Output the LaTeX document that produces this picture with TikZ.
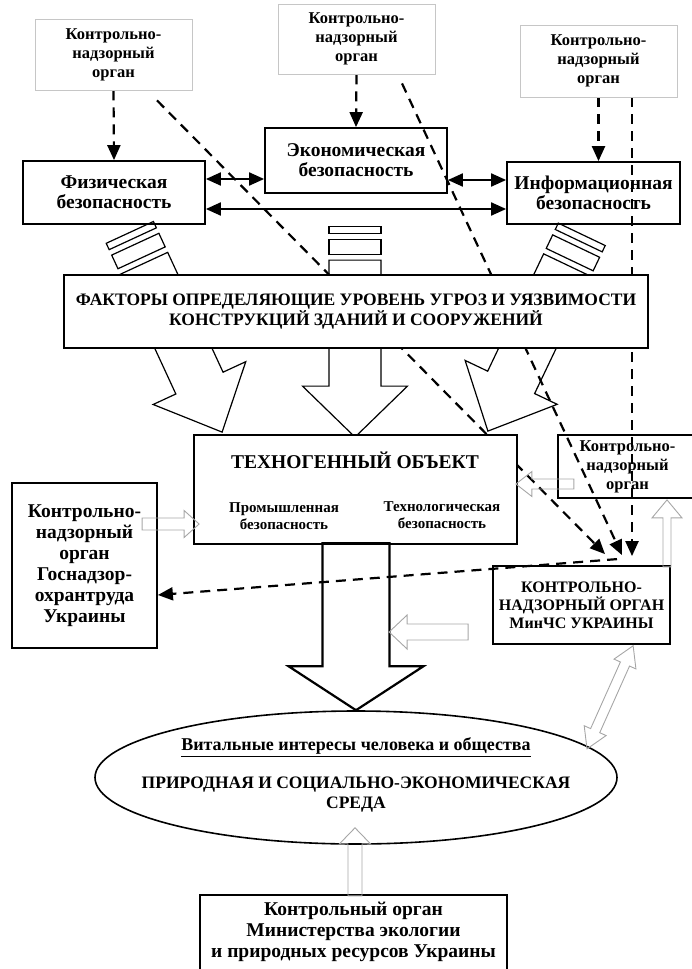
\documentclass[tikz,border=0pt]{standalone}
\usepackage{fontspec}
\setmainfont{Liberation Serif}
\usetikzlibrary{arrows.meta, calc, shapes.geometric}

\pgfdeclarelayer{back}
\pgfsetlayers{back,main}

\newcommand{\ctrlfont}{\fontsize{16.5}{19}\selectfont\bfseries}
\newcommand{\secfont}{\fontsize{19.5}{20}\selectfont\bfseries}
\newcommand{\capsfont}{\fontsize{17.5}{20}\selectfont\bfseries}
\newcommand{\titlefont}{\fontsize{19.5}{22}\selectfont\bfseries}
\newcommand{\subfont}{\fontsize{15}{17}\selectfont\bfseries}
\newcommand{\orgfont}{\fontsize{19.5}{21}\selectfont\bfseries}
\newcommand{\minfont}{\fontsize{16}{18}\selectfont\bfseries}
\newcommand{\envfont}{\fontsize{18}{20}\selectfont\bfseries}

\tikzset{
  pics/hollowarrow/.style args={#1/#2/#3/#4}{code={
    \draw[hollowline] (0,0) -- (-#4,#3) -- (-#4,#2) -- (-#1,#2) -- (-#1,-#2) -- (-#4,-#2) -- (-#4,-#3) -- cycle;}},
  pics/twinarrow/.style args={#1/#2/#3/#4}{code={
    \draw[hollowline] (0,0) -- (#4,#3) -- (#4,#2) -- (#1-#4,#2) -- (#1-#4,#3) -- (#1,0)
      -- (#1-#4,-#3) -- (#1-#4,-#2) -- (#4,-#2) -- (#4,-#3) -- cycle;}},
  pics/blockarrow/.style args={#1/#2/#3/#4}{code={
    \draw[line width=2.2pt, line join=miter] (0,0) -- (-#4,#3) -- (-#4,#2) -- (-#1,#2) -- (-#1,-#2) -- (-#4,-#2) -- (-#4,-#3) -- cycle;}},
  pics/stripedarrow/.style args={#1/#2/#3/#4}{code={
    \draw[stripeline] (0,0) -- (-#4,#3) -- (-#4,#2) -- (-#1,#2) -- (-#1,-#2) -- (-#4,-#2) -- (-#4,-#3) -- cycle;
    \draw[stripeline] (-#1-6,-#2) rectangle (-#1-21,#2);
    \draw[stripeline] (-#1-27,-#2) rectangle (-#1-34,#2);}}
}

\begin{document}
\begin{tikzpicture}[x=1pt, y=-1pt,
  ctrlbox/.style={draw=gray!45, line width=0.8pt, align=center, inner sep=0pt, font=\ctrlfont},
  mainbox/.style={draw, line width=1.8pt, align=center, inner sep=0pt},
  dashline/.style={line width=2.2pt, dash pattern=on 10pt off 7pt},
  dasharrow/.style={dashline, -{Triangle[length=15pt,width=13pt]}},
  twoway/.style={line width=2pt, {Triangle[length=15pt,width=13pt]}-{Triangle[length=15pt,width=13pt]}},
  hollowline/.style={draw=gray!70, line width=0.9pt},
  stripeline/.style={draw, line width=1.2pt, fill=white}]

  \useasboundingbox (0,0) rectangle (691,969);

  % Контрольно-надзорные органы сверху
  \node[ctrlbox, minimum width=157pt, minimum height=71pt] (ctrlA) at (113.5,54.5) {Контрольно-\\надзорный\\орган};
  \node[ctrlbox, minimum width=157pt, minimum height=70pt] (ctrlB) at (356.5,39) {Контрольно-\\надзорный\\орган};
  \node[ctrlbox, minimum width=157pt, minimum height=72pt] (ctrlC) at (598.5,61) {Контрольно-\\надзорный\\орган};

  % Виды безопасности
  \node[mainbox, font=\secfont, minimum width=182pt, minimum height=63pt] (phys) at (114,192.5) {Физическая\\безопасность};
  \node[mainbox, font=\secfont, minimum width=182pt, minimum height=65pt] (econ) at (356,160.5) {Экономическая\\безопасность};
  \node[mainbox, font=\secfont, minimum width=173pt, minimum height=62pt] (info) at (593.5,193) {Информационная\\безопасность};

  % Факторы
  \node[mainbox, fill=white, font=\capsfont, minimum width=584pt, minimum height=73pt] (factors) at (356,311.5)
    {ФАКТОРЫ ОПРЕДЕЛЯЮЩИЕ УРОВЕНЬ УГРОЗ И УЯЗВИМОСТИ\\КОНСТРУКЦИЙ ЗДАНИЙ И СООРУЖЕНИЙ};

  % Техногенный объект
  \node[mainbox, fill=white, minimum width=323pt, minimum height=109pt] (techno) at (355.5,489.5) {};
  \node[font=\titlefont] (technotitle) at (355,460) {ТЕХНОГЕННЫЙ ОБЪЕКТ};
  \node[font=\subfont, align=center] (indsafe) at (284,516) {Промышленная\\безопасность};
  \node[font=\subfont, align=center] (techsafe) at (442,515) {Технологическая\\безопасность};

  % Контрольно-надзорный орган справа
  \node[mainbox, font=\ctrlfont, minimum width=139pt, minimum height=63pt] (ctrlD) at (627.5,466.5) {Контрольно-\\надзорный\\орган};

  % Госнадзорохрантруда
  \node[mainbox, font=\orgfont, minimum width=145pt, minimum height=165pt] (ctrlE) at (84.5,565.5)
    {Контрольно-\\надзорный\\орган\\Госнадзор-\\охрантруда\\Украины};

  % МинЧС
  \node[mainbox, font=\minfont, minimum width=177pt, minimum height=78pt] (mchs) at (581.5,605)
    {КОНТРОЛЬНО-\\НАДЗОРНЫЙ ОРГАН\\МинЧС УКРАИНЫ};

  % Среда
  \node[ellipse, draw, line width=1.6pt, minimum width=522pt, minimum height=133pt, inner sep=0pt] (env) at (356,777.5) {};
  \node[font=\envfont] (vital) at (356,747) {\underline{Витальные интересы человека и общества}};
  \node[font=\capsfont, align=center] (envtext) at (356,795) {ПРИРОДНАЯ И СОЦИАЛЬНО-ЭКОНОМИЧЕСКАЯ\\СРЕДА};

  % Минэкологии
  \node[mainbox, minimum width=307pt, minimum height=80pt] (eco) at (353.5,935) {};
  \node[font=\orgfont, align=center] (ecotext) at (353.5,931.5) {Контрольный орган\\Министерства экологии\\и природных ресурсов Украины};

  \begin{pgfonlayer}{back}
    % Полосатые стрелки
    \pic[rotate=-65.2] at ($(techno.north west)+(29,-2)$) {stripedarrow=186/26/51/54};
    \pic[rotate=-90] at ($(techno.north)+(-0.5,3)$) {stripedarrow=177/26/52.5/51};
    \pic[rotate=-115.5] at ($(techno.north east)+(-30,-3)$) {stripedarrow=184/26/51/54};

    % Пунктир к видам безопасности
    \draw[dasharrow] (ctrlA.south) -- (phys.north);
    \draw[dasharrow] (ctrlB.south) -- (econ.north);
    \draw[dasharrow] (ctrlC.south) -- (ctrlC.south |- info.north);

    % Пунктир к МинЧС
    \draw[dasharrow] ($(ctrlA.south)+(43.5,10)$) -- ($(mchs.north)+(23.5,-11)$);
    \draw[dasharrow] ($(ctrlB.south)+(45.5,9)$) -- ($(mchs.north)+(40.5,-10)$);
    \draw[dasharrow] ($(ctrlC.south)+(33.5,0)$) -- ($(mchs.north)+(50.5,-9)$);
  \end{pgfonlayer}

  % Связи между видами безопасности
  \draw[twoway] ($(phys.east)+(0,-13.5)$) -- ($(econ.west)+(0,18.5)$);
  \draw[twoway] ($(econ.east)+(0,19.5)$) -- ($(info.west)+(0,-13)$);
  \draw[twoway] ($(phys.east)+(0,16.5)$) -- ($(info.west)+(0,16)$);

  % Большая стрелка к среде
  \pic[rotate=-90] at (env.north) {blockarrow=167/33.5/67.5/44};

  % Контурные стрелки
  \pic at ($(techno.west)+(6,34.5)$) {hollowarrow=57/6/13.5/15};
  \pic[rotate=180] at ($(techno.east)+(-2,-5.5)$) {hollowarrow=58/5/12.5/16};
  \pic[rotate=90] at ($(ctrlD.south)+(39.5,1)$) {hollowarrow=67/4/15/18};
  \pic[rotate=180] at ($(mchs.west)+(-103,27)$) {hollowarrow=79/8/17/18};
  \pic[rotate=90] at ($(env.south)+(-1,-17)$) {hollowarrow=68/7/15.5/16};
  \pic[rotate=65.9] at ($(mchs.south)+(5.5,104)$) {twinarrow=113/5/12/20};

  % Пунктир к Госнадзорохрантруда
  \draw[dasharrow] ($(mchs.north)+(35.5,-6)$) -- ($(ctrlE.east)+(0,29.5)$);

\end{tikzpicture}
\end{document}
